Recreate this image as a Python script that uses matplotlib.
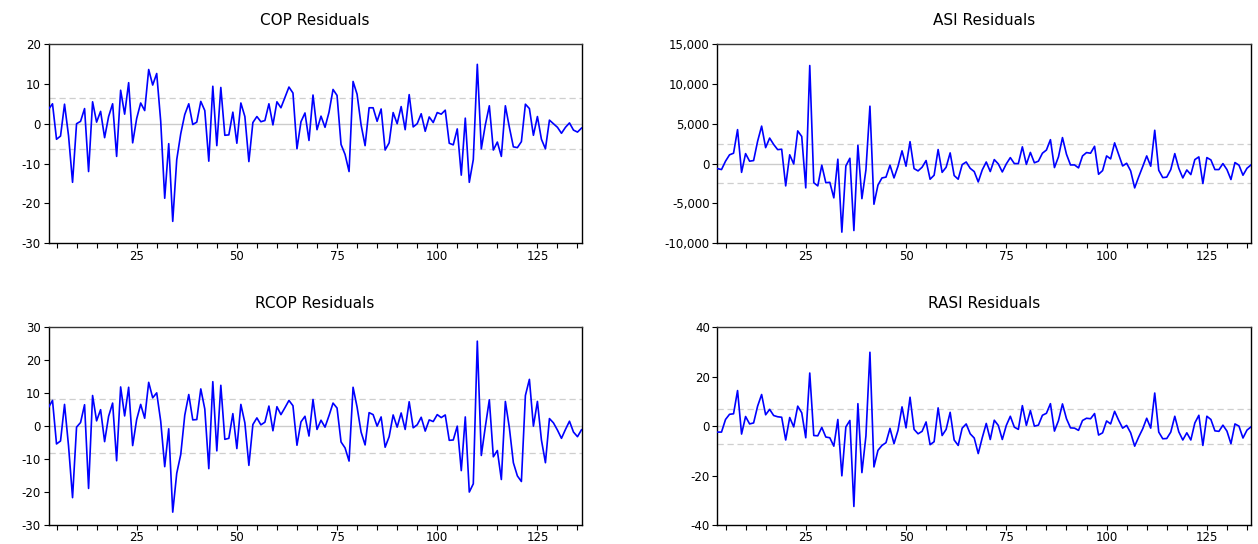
import matplotlib
matplotlib.use("Agg")
import matplotlib.pyplot as plt
from matplotlib.ticker import FixedLocator, FuncFormatter
import numpy as np

plt.rcParams['font.family'] = ['DejaVu Sans']
plt.rcParams['axes.unicode_minus'] = False

obs_start = 3
obs_end = 136

cop = [3.6, 5.0, -3.9, -3.1, 4.9, -3.0, -14.7, 0.0, 0.6, 3.8,
       -12.0, 5.5, 0.4, 3.1, -3.5, 1.8, 5.0, -8.2, 8.4, 2.4,
       10.3, -4.8, 1.3, 5.2, 3.3, 13.6, 9.7, 12.6, 0.6, -18.7,
       -5.0, -24.5, -9.0, -2.5, 2.3, 5.0, -0.2, 0.4, 5.6, 3.3,
       -9.4, 9.4, -5.5, 9.1, -2.9, -2.8, 2.9, -4.9, 5.2, 1.8,
       -9.5, 0.3, 1.8, 0.5, 0.8, 5.0, -0.3, 5.5, 4.0, 6.6,
       9.2, 7.7, -6.3, 0.5, 2.7, -4.2, 7.2, -1.5, 1.9, -0.9,
       2.9, 8.6, 7.1, -5.2, -7.7, -12.0, 10.6, 7.4, -0.3, -5.5,
       4.0, 4.0, 0.6, 3.7, -6.6, -4.8, 2.8, 0.0, 4.3, -1.5,
       7.3, -0.8, 0.0, 2.5, -1.9, 1.7, 0.3, 2.8, 2.4, 3.4,
       -4.9, -5.3, -1.3, -12.9, 1.4, -14.7, -9.0, 14.9, -6.3, -0.3,
       4.5, -6.6, -4.6, -8.2, 4.5, -0.9, -5.8, -6.0, -4.5, 4.9,
       3.8, -2.9, 1.8, -3.9, -6.3, 0.9, 0.0, -0.9, -2.4, -0.9,
       0.2, -1.6, -2.1, -1.1]

asi_thousands = [-0.63, -0.75, 0.3, 1.1, 1.3, 4.26, -1.1, 1.25, 0.3, 0.38,
                 2.8, 4.7, 2.0, 3.2, 2.4, 1.75, 1.8, -2.8, 1.1, -0.05,
                 4.1, 3.4, -3.05, 12.3, -2.4, -2.8, -0.2, -2.4, -2.35, -4.3,
                 0.55, -8.6, -0.3, 0.67, -8.4, 2.3, -4.4, -0.8, 7.2, -5.1,
                 -2.7, -1.8, -1.7, -0.2, -1.8, -0.33, 1.6, -0.33, 2.75, -0.63,
                 -0.92, -0.46, 0.38, -1.96, -1.46, 1.76, -1.1, -0.46, 1.34, -1.5,
                 -1.96, -0.13, 0.2, -0.6, -1.0, -2.3, -0.8, 0.2, -1.0, 0.5,
                 -0.04, -1.05, -0.04, 0.75, 0.0, 0.0, 2.1, -0.1, 1.4, 0.1,
                 0.3, 1.3, 1.7, 3.0, -0.5, 0.84, 3.26, 1.17, -0.17, -0.17,
                 -0.54, 0.96, 1.38, 1.3, 2.17, -1.34, -0.88, 0.96, 0.59, 2.6,
                 1.17, -0.3, 0.04, -0.92, -3.05, -1.67, -0.38, 0.96, -0.33, 4.18,
                 -0.84, -1.76, -1.7, -0.75, 1.25, -0.59, -1.8, -0.8, -1.38, 0.5,
                 0.84, -2.5, 0.75, 0.46, -0.75, -0.75, 0.0, -0.75, -2.0, 0.13,
                 -0.2, -1.46, -0.59, -0.17]
asi = [v * 1000 for v in asi_thousands]

rcop = [5.7, 7.8, -5.4, -4.5, 6.6, -6.0, -21.7, -0.3, 1.1, 6.5,
        -18.9, 9.3, 1.6, 5.0, -4.7, 3.0, 7.0, -10.5, 11.9, 3.1,
        11.8, -5.9, 2.0, 6.6, 2.4, 13.3, 8.6, 10.1, 1.5, -12.3,
        -0.8, -26.1, -14.3, -8.6, 3.3, 9.6, 1.9, 2.0, 11.3, 5.2,
        -12.9, 13.5, -7.5, 12.4, -4.0, -3.7, 3.8, -6.8, 6.6, 1.0,
        -11.9, 0.5, 2.5, 0.4, 1.2, 6.1, -1.4, 5.9, 3.5, 5.6,
        7.8, 6.2, -5.8, 1.3, 3.0, -3.0, 8.1, -1.0, 1.8, -0.3,
        3.2, 7.0, 5.5, -4.8, -6.6, -10.6, 11.8, 5.8, -1.8, -5.7,
        4.1, 3.5, 0.0, 2.8, -6.4, -3.2, 3.4, -0.3, 4.0, -1.0,
        7.4, -0.5, 0.4, 2.7, -1.5, 1.9, 1.4, 3.5, 2.6, 3.4,
        -4.3, -4.2, 0.0, -13.5, 2.8, -20.0, -17.5, 25.8, -8.9, -0.2,
        8.0, -9.3, -7.4, -16.2, 7.5, -0.5, -11.1, -15.1, -16.8, 9.3,
        14.2, 0.0, 7.5, -4.2, -11.1, 2.3, 1.0, -1.2, -3.7, -1.0,
        1.5, -1.8, -3.2, -1.1]

rasi = [-2.4, -2.4, 2.7, 4.8, 5.0, 14.4, -3.2, 3.9, 0.9, 1.3,
        8.1, 12.8, 4.6, 6.8, 4.3, 3.8, 3.6, -5.6, 3.5, -0.3,
        8.1, 5.4, -4.7, 21.5, -3.8, -3.9, -0.5, -4.4, -4.7, -8.1,
        2.7, -20.1, -0.3, 2.3, -32.5, 9.1, -18.8, -4.0, 29.9, -16.5,
        -9.8, -7.8, -6.7, -0.9, -7.1, -1.7, 7.8, -0.7, 11.7, -1.3,
        -3.1, -2.1, 1.7, -7.5, -6.3, 7.4, -3.8, -1.3, 5.6, -5.6,
        -7.8, -0.8, 0.9, -3.1, -4.8, -11.1, -4.7, 1.1, -5.4, 2.4,
        0.3, -5.4, 0.3, 4.0, -0.4, -1.3, 8.3, 0.3, 6.3, 0.0,
        0.4, 4.4, 5.2, 9.1, -2.0, 2.2, 9.0, 3.0, -0.7, -0.8,
        -1.7, 2.3, 3.2, 3.0, 5.1, -3.6, -2.7, 2.1, 0.9, 6.0,
        2.4, -0.8, 0.3, -2.7, -8.1, -4.4, -1.1, 3.2, -0.8, 13.4,
        -2.4, -5.1, -5.0, -2.4, 4.0, -2.3, -5.6, -2.7, -5.6, 1.3,
        4.4, -7.8, 4.0, 2.7, -1.9, -2.1, 0.4, -2.0, -7.1, 0.9,
        0.0, -4.8, -1.6, -0.3]

titles = ["COP Residuals", "ASI Residuals", "RCOP Residuals", "RASI Residuals"]
series = [cop, asi, rcop, rasi]
bands = [6.4, 2400, 8.3, 7.1]
ylims = [(-30, 20), (-10000, 15000), (-30, 30), (-40, 40)]
yticks = [[-30, -20, -10, 0, 10, 20],
          [-10000, -5000, 0, 5000, 10000, 15000],
          [-30, -20, -10, 0, 10, 20, 30],
          [-40, -20, 0, 20, 40]]
xtick_labels = [25, 50, 75, 100, 125]

W, H = 1258, 544
fig = plt.figure(figsize=(W / 100, H / 100), dpi=100)
fig.patch.set_facecolor("white")

boxes = [(48.5, 44, 581.5, 243.3), (717.5, 44, 1251, 243.3),
         (48.5, 327.3, 581.5, 525), (717.5, 327.3, 1251, 525)]

x = np.arange(obs_start, obs_start + len(cop))

for i in range(4):
    x0, y0, x1, y1 = boxes[i]
    ax = fig.add_axes([x0 / W, 1 - y1 / H, (x1 - x0) / W, (y1 - y0) / H])
    ax.axhline(0, color="#cccccc", lw=1.0, zorder=1)
    ax.axhline(bands[i], color="#cfcfcf", lw=0.9, ls=(0, (5, 3)), zorder=1)
    ax.axhline(-bands[i], color="#cfcfcf", lw=0.9, ls=(0, (5, 3)), zorder=1)
    ax.plot(x, series[i], color="#0000ff", lw=1.2, zorder=3)
    ax.set_xlim(obs_start, obs_end)
    ax.set_ylim(*ylims[i])
    ax.xaxis.set_major_locator(FixedLocator(np.arange(5, obs_end + 1, 5)))
    ax.xaxis.set_major_formatter(FuncFormatter(
        lambda v, p: str(int(round(v))) if int(round(v)) in xtick_labels else ""))
    ax.set_yticks(yticks[i])
    if i == 1:
        ax.yaxis.set_major_formatter(FuncFormatter(lambda v, p: f"{int(v):,}"))
    else:
        ax.yaxis.set_major_formatter(FuncFormatter(lambda v, p: f"{int(v)}"))
    ax.tick_params(axis="both", direction="out", length=3.5, width=0.8,
                   labelsize=8.5, colors="black", pad=2)
    ax.tick_params(axis="x", pad=1)
    for s in ax.spines.values():
        s.set_color("black")
        s.set_linewidth(1.0)
    ax.spines["top"].set_color("#333333")
    ax.set_title(titles[i], fontsize=11, pad=14)

fig.savefig("out.png", dpi=100, facecolor="white")
